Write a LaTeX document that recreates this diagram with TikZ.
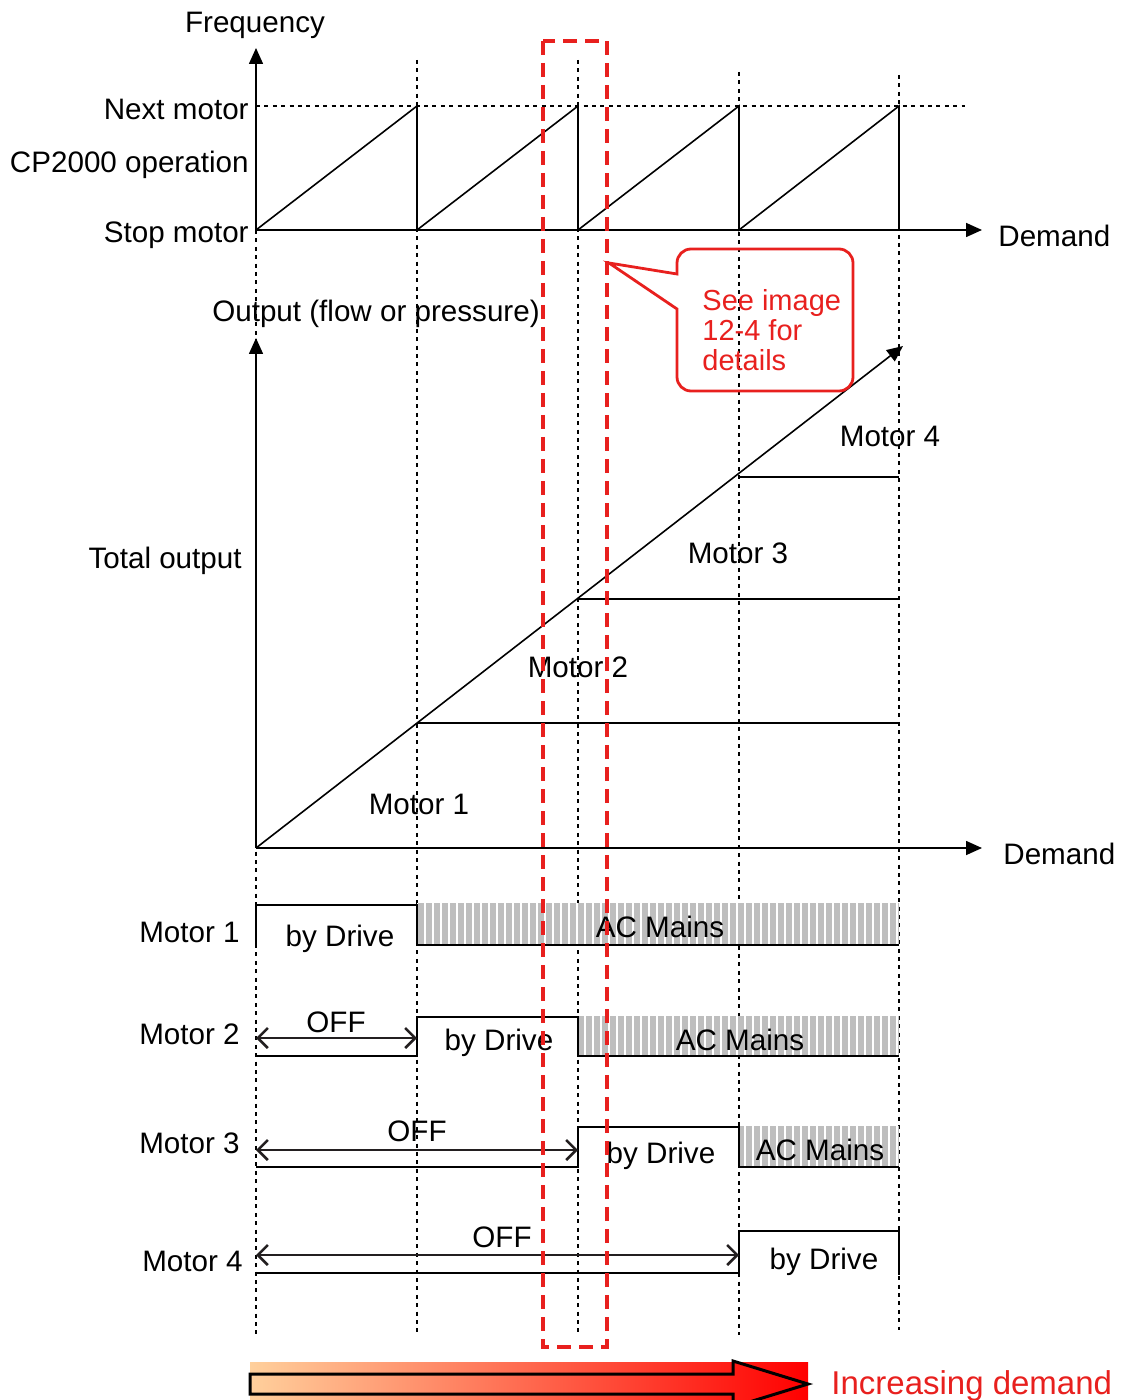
\documentclass[tikz,border=0pt]{standalone}
\usepackage{fontspec}
\setmainfont{Liberation Sans}
\usetikzlibrary{arrows.meta,positioning,calc}
\definecolor{Mark}{HTML}{E8201E}
\definecolor{Peach}{HTML}{FFD09C}
\definecolor{Hatch}{HTML}{BEBEBE}
\definecolor{Ink}{HTML}{231F20}

\begin{document}
\begin{tikzpicture}[x=0.5pt,y=-0.5pt,font=\fontsize{14.8}{17}\selectfont,>={Triangle[length=8pt,width=7pt]}]
  \tikzstyle{lbl}=[inner sep=0pt,yshift=-1.5pt]
  \tikzstyle{axis}=[line width=0.8pt,->]
  \tikzstyle{guide}=[line width=1pt,dash pattern=on 2pt off 2.2pt]
  \tikzstyle{wave}=[line width=0.8pt]
  \tikzstyle{span}=[Ink,line width=1.3pt,{Straight Barb[length=5pt,width=10pt]}-{Straight Barb[length=5pt,width=10pt]}]
  \tikzstyle{redbox}=[Mark,line width=2pt,dash pattern=on 7pt off 4pt]
  \useasboundingbox (0,0) rectangle (1127,1400);

  % origins and axis ends
  \coordinate (fo) at (256,230);
  \coordinate (ftop) at (256,48);
  \coordinate (fend) at (982,230);
  \coordinate (qo) at (256,848);
  \coordinate (qtop) at (256,338);
  \coordinate (qend) at (982,848);
  \coordinate (qmax) at (903,346);

  % switching instants, dotted guides
  \draw[guide] (256,230) -- (256,1335);
  \draw[guide] (417,60) -- (417,1335);
  \draw[guide] (578,60) -- (578,1335);
  \draw[guide] (739,72) -- (739,1335);
  \draw[guide] (899,75) -- (899,1330);
  \draw[guide] (256,106) -- (965,106);

  % frequency diagram
  \draw[axis] (fo) -- (ftop);
  \draw[axis] (fo) -- (fend);
  \draw[wave] (fo) -- (417,106) -- (417,230) -- (578,106) -- (578,230) -- (739,106) -- (739,230) -- (899,106) -- (899,230);
  \node[lbl] (freq) at (255,22) {Frequency};
  \node[lbl,anchor=east] (next) at (249,106) {Next motor};
  \node[lbl,anchor=east] (oper) at (249,162) {CP2000 operation};
  \node[lbl,anchor=east] (stop) at (249,232) {Stop motor};
  \node[lbl,anchor=west] (dem1) at (998,233) {Demand};

  % output diagram
  \draw[axis] (qo) -- (qtop);
  \draw[axis] (qo) -- (qend);
  \draw[axis] (qo) -- (qmax);
  \draw[wave] (417,723) -- (899,723);
  \draw[wave] (578,599) -- (899,599);
  \draw[wave] (739,477) -- (899,477);
  \node[lbl] (outp) at (376,311) {Output (flow or pressure)};
  \node[lbl,anchor=east] (total) at (242,558) {Total output};
  \node[lbl,anchor=west] (dem2) at (1003,851) {Demand};
  \node[lbl] (m1) at (419,801) {Motor 1};
  \node[lbl] (m2) at (578,664) {Motor 2};
  \node[lbl] (m3) at (738,550) {Motor 3};
  \node[lbl] (m4) at (890,433) {Motor 4};

  % AC mains bars
  \foreach \xa/\ya/\yb in {417/903/945,578/1016/1056,739/1126/1167}{
    \fill[Hatch] (\xa,\ya) rectangle (899,\yb);
    \begin{scope}
      \clip (\xa,\ya) rectangle (899,\yb);
      \foreach \x in {257,265,...,897}
        \draw[white,line width=0.9pt] (\x,\ya) -- (\x,\yb);
    \end{scope}
  }

  % motor states
  \draw[wave] (256,945) -- (256,905) -- (417,905) -- (417,945) -- (899,945);
  \draw[wave] (256,1056) -- (417,1056) -- (417,1017) -- (578,1017) -- (578,1056) -- (899,1056);
  \draw[wave] (256,1167) -- (578,1167) -- (578,1127) -- (739,1127) -- (739,1167) -- (899,1167);
  \draw[wave] (256,1273) -- (739,1273) -- (739,1231) -- (899,1231) -- (899,1275);
  \coordinate (s2) at (256,1038);
  \coordinate (e2) at (417,1038);
  \coordinate (s3) at (256,1150);
  \coordinate (e3) at (578,1150);
  \coordinate (s4) at (256,1255);
  \coordinate (e4) at (739,1255);
  \draw[span] (s2) -- (e2);
  \draw[span] (s3) -- (e3);
  \draw[span] (s4) -- (e4);

  \node[lbl,anchor=east] (row1) at (240,929) {Motor 1};
  \node[lbl,anchor=east] (row2) at (240,1031) {Motor 2};
  \node[lbl,anchor=east] (row3) at (240,1140) {Motor 3};
  \node[lbl,anchor=east] (row4) at (243,1258) {Motor 4};
  \node[lbl] (drv1) at (340,936) {by Drive};
  \node[lbl] (drv2) at (499,1040) {by Drive};
  \node[lbl] (drv3) at (661,1153) {by Drive};
  \node[lbl] (drv4) at (824,1259) {by Drive};
  \node[lbl] (ac1) at (660,924) {AC Mains};
  \node[lbl] (ac2) at (740,1037) {AC Mains};
  \node[lbl] (ac3) at (820,1147) {AC Mains};
  \node[lbl] (off2) at (336,1019) {OFF};
  \node[lbl] (off3) at (417,1128) {OFF};
  \node[lbl] (off4) at (502,1234) {OFF};

  % highlighted instant and callout
  \draw[redbox] (543,41) rectangle (607,1347);
  \coordinate (tip) at (609,263);
  \draw[Mark,line width=1.4pt] (tip) -- (677,274) [rounded corners=7pt] -- (677,249) -- (853,249) -- (853,391) -- (677,391) [sharp corners] -- (677,309) -- cycle;
  \node[lbl,Mark,anchor=west,align=left,font=\fontsize{14.5}{15}\selectfont] (see) at (702,327) {See image\\12-4 for\\details};

  % demand arrow
  \shade[left color=Peach,right color=red] (250,1362) rectangle (808,1400);
  \draw[line width=1.5pt,line join=miter] (250,1374) -- (733,1374) -- (733,1361) -- (808,1384) -- (733,1407) -- (733,1394) -- (250,1394) -- cycle;
  \node[lbl,Mark,anchor=west,font=\fontsize{16.5}{19}\selectfont] (incr) at (831,1383) {Increasing demand};
\end{tikzpicture}
\end{document}
